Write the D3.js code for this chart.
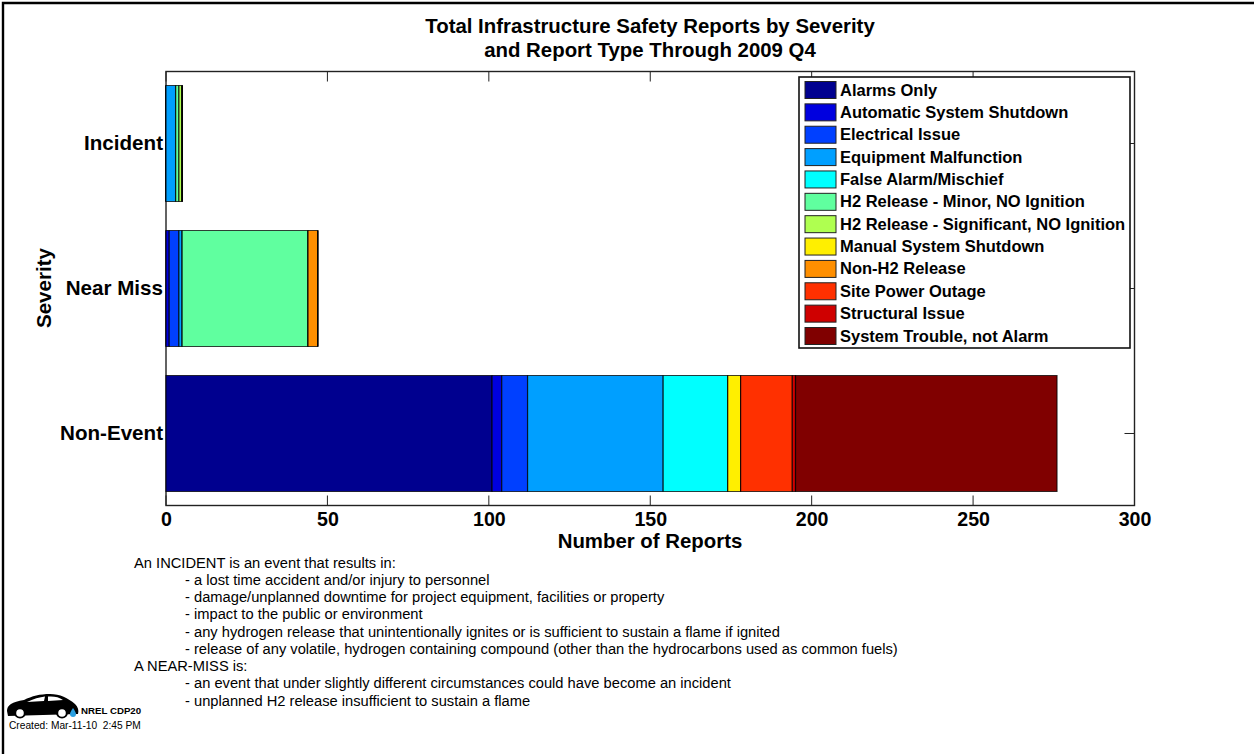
<!DOCTYPE html>
<html><head><meta charset="utf-8">
<script src="https://d3js.org/d3.v7.min.js"></script>
<style>html,body{margin:0;padding:0;background:#fff;overflow:hidden}svg{display:block}text{font-family:"Liberation Sans",Arial,sans-serif;fill:#000}</style>
</head><body><svg id="c" width="1254" height="754"></svg>
<script>
const severities = ["Incident","Near Miss","Non-Event"];
const reportTypes = ["Alarms Only","Automatic System Shutdown","Electrical Issue","Equipment Malfunction","False Alarm/Mischief","H2 Release - Minor, NO Ignition","H2 Release - Significant, NO Ignition","Manual System Shutdown","Non-H2 Release","Site Power Outage","Structural Issue","System Trouble, not Alarm"];
const colors = ["#00008f","#0000df","#0040ff","#009fff","#00ffff","#60ff9f","#afff50","#ffef00","#ff8f00","#ff3000","#cf0000","#800000"];
const incidentValues = [0,0,0,3,0,1,1,0,0,0,0,0];
const nearMissValues = [0,1,3,1,0,39,0,0,3,0,0,0];
const nonEventValues = [101,3,8,42,20,0,0,4,0,16,1,81];
const xTicks = [0,50,100,150,200,250,300];
const titleLines = ["Total Infrastructure Safety Reports by Severity","and Report Type Through 2009 Q4"];
const notes = [
 [0,"An INCIDENT is an event that results in:"],
 [1,"- a lost time accident and/or injury to personnel"],
 [1,"- damage/unplanned downtime for project equipment, facilities or property"],
 [1,"- impact to the public or environment"],
 [1,"- any hydrogen release that unintentionally ignites or is sufficient to sustain a flame if ignited"],
 [1,"- release of any volatile, hydrogen containing compound (other than the hydrocarbons used as common fuels)"],
 [0,"A NEAR-MISS is:"],
 [1,"- an event that under slightly different circumstances could have become an incident"],
 [1,"- unplanned H2 release insufficient to sustain a flame"]
];
const series = [incidentValues,nearMissValues,nonEventValues];

const svg = d3.select("#c");
const L=166,R=1134.5,T=71.5,B=505.5;
const x = d3.scaleLinear().domain([0,300]).range([L,R]);
const y = d3.scaleBand().domain(severities).range([T,B]).paddingInner(0.2).paddingOuter(0.0966);

// page frame
svg.append("path").attr("d","M3 754V3H1254").attr("fill","none").attr("stroke","#000").attr("stroke-width",2.4);

// title
svg.append("g").selectAll("text").data(titleLines).join("text")
 .attr("x",650).attr("y",(d,i)=>32.5+i*24.5).attr("text-anchor","middle")
 .attr("font-size",20.4).attr("font-weight","bold").text(d=>d);

// axes
const axB = d3.axisBottom(x).tickValues(xTicks).tickSize(0).tickPadding(7).tickFormat(d3.format("d"));
const gx = svg.append("g").attr("transform",`translate(0,${B})`).call(axB);
gx.select(".domain").remove();
gx.selectAll("text").attr("font-size",19.6).attr("font-weight","bold").attr("font-family",'"Liberation Sans",Arial,sans-serif').attr("fill","#000");
const axL = d3.axisLeft(y).tickSize(0).tickPadding(3);
const gy = svg.append("g").attr("transform",`translate(${L},0)`).call(axL);
gy.select(".domain").remove();
gy.selectAll("text").attr("font-size",20.6).attr("font-weight","bold").attr("font-family",'"Liberation Sans",Arial,sans-serif').attr("fill","#000");

// frame + ticks
const frame = svg.append("g").attr("fill","none").attr("stroke","#222");
frame.selectAll("path.b").data(xTicks).join("path").attr("class","b").attr("d",d=>`M${x(d)} ${B}v-10`).attr("stroke-width",1);
frame.selectAll("path.t").data(xTicks).join("path").attr("class","t").attr("d",d=>`M${x(d)} ${T}v10`).attr("stroke-width",1);
frame.selectAll("path.r").data(severities).join("path").attr("class","r").attr("d",d=>`M${R} ${y(d)+y.bandwidth()/2}h-10`).attr("stroke-width",1);
frame.selectAll("path.l").data(severities).join("path").attr("class","l").attr("d",d=>`M${L} ${y(d)+y.bandwidth()/2}h10`).attr("stroke-width",1);
frame.append("rect").attr("x",L).attr("y",T).attr("width",R-L).attr("height",B-T).attr("stroke-width",1.4);

// bars: zero-length segments are kept, they stack up as dark edge lines as in the original
const g = svg.append("g");
severities.forEach((s,si)=>{
  let cum=0;
  series[si].forEach((v,i)=>{
    const x0=x(cum), x1=x(cum+v), y0=y(s), y1=y(s)+y.bandwidth();
    g.append("path").attr("d",`M${x0} ${y0}H${x1}V${y1}H${x0}Z`)
     .attr("fill",colors[i]).attr("stroke","#000").attr("stroke-width",1.2).attr("stroke-opacity",0.75);
    cum+=v;
  });
});

// axis titles
svg.append("text").attr("x",650).attr("y",547.5).attr("text-anchor","middle").attr("font-size",20.4).attr("font-weight","bold").text("Number of Reports");
svg.append("text").attr("transform","translate(50.5,288) rotate(-90)").attr("text-anchor","middle").attr("font-size",20.6).attr("font-weight","bold").text("Severity");

// legend
const lg = svg.append("g");
lg.append("rect").attr("x",799).attr("y",77).attr("width",331).attr("height",271).attr("fill","#fff").attr("stroke","#111").attr("stroke-width",1.6);
const rowY = d3.scalePoint().domain(reportTypes).range([90,336]);
const rows = lg.selectAll("g").data(reportTypes).join("g").attr("transform",d=>`translate(0,${rowY(d)})`);
rows.append("rect").attr("x",805).attr("y",-8.5).attr("width",31).attr("height",17).attr("fill",(d,i)=>colors[i]).attr("stroke","#222").attr("stroke-width",1);
rows.append("text").attr("x",840).attr("y",5.5).attr("font-size",16.5).attr("font-weight","bold").text(d=>d);

// notes
svg.append("g").selectAll("text").data(notes).join("text")
 .attr("x",d=>d[0]?185:134).attr("y",(d,i)=>567.5+i*17.25).attr("font-size",14.7).text(d=>d[1]);

// logo car
const car = svg.append("g");
car.append("path").attr("fill","#000").attr("d","M7 711 C7 705 12 702 24 700 C32 696 40 694 50 694 C60 694 68 698 75 704 C78 707 79 710 78 714 L8 716 Z");
car.append("path").attr("fill","#fff").attr("d","M27 702 C33 699 40 697 45 696.5 L44 701 Z M48 696.5 C54 696 59 697 63 700 L48 701 Z");
[20,62].forEach(cx=>{
 car.append("circle").attr("cx",cx).attr("cy",712.5).attr("r",6).attr("fill","#000");
 car.append("circle").attr("cx",cx).attr("cy",713).attr("r",3.8).attr("fill","#fff");
});
car.append("path").attr("fill","#2a9fe0").attr("d","M73 708 C75 711 76 713 76 714 A3 3 0 0 1 70 714 C70 713 71 711 73 708 Z");
svg.append("text").attr("x",81).attr("y",714).attr("font-size",9.7).attr("font-weight","bold").text("NREL CDP20");
svg.append("text").attr("x",9).attr("y",729).attr("font-size",10.2).attr("fill","#222").attr("xml:space","preserve").text("Created: Mar-11-10  2:45 PM");
</script></body></html>
